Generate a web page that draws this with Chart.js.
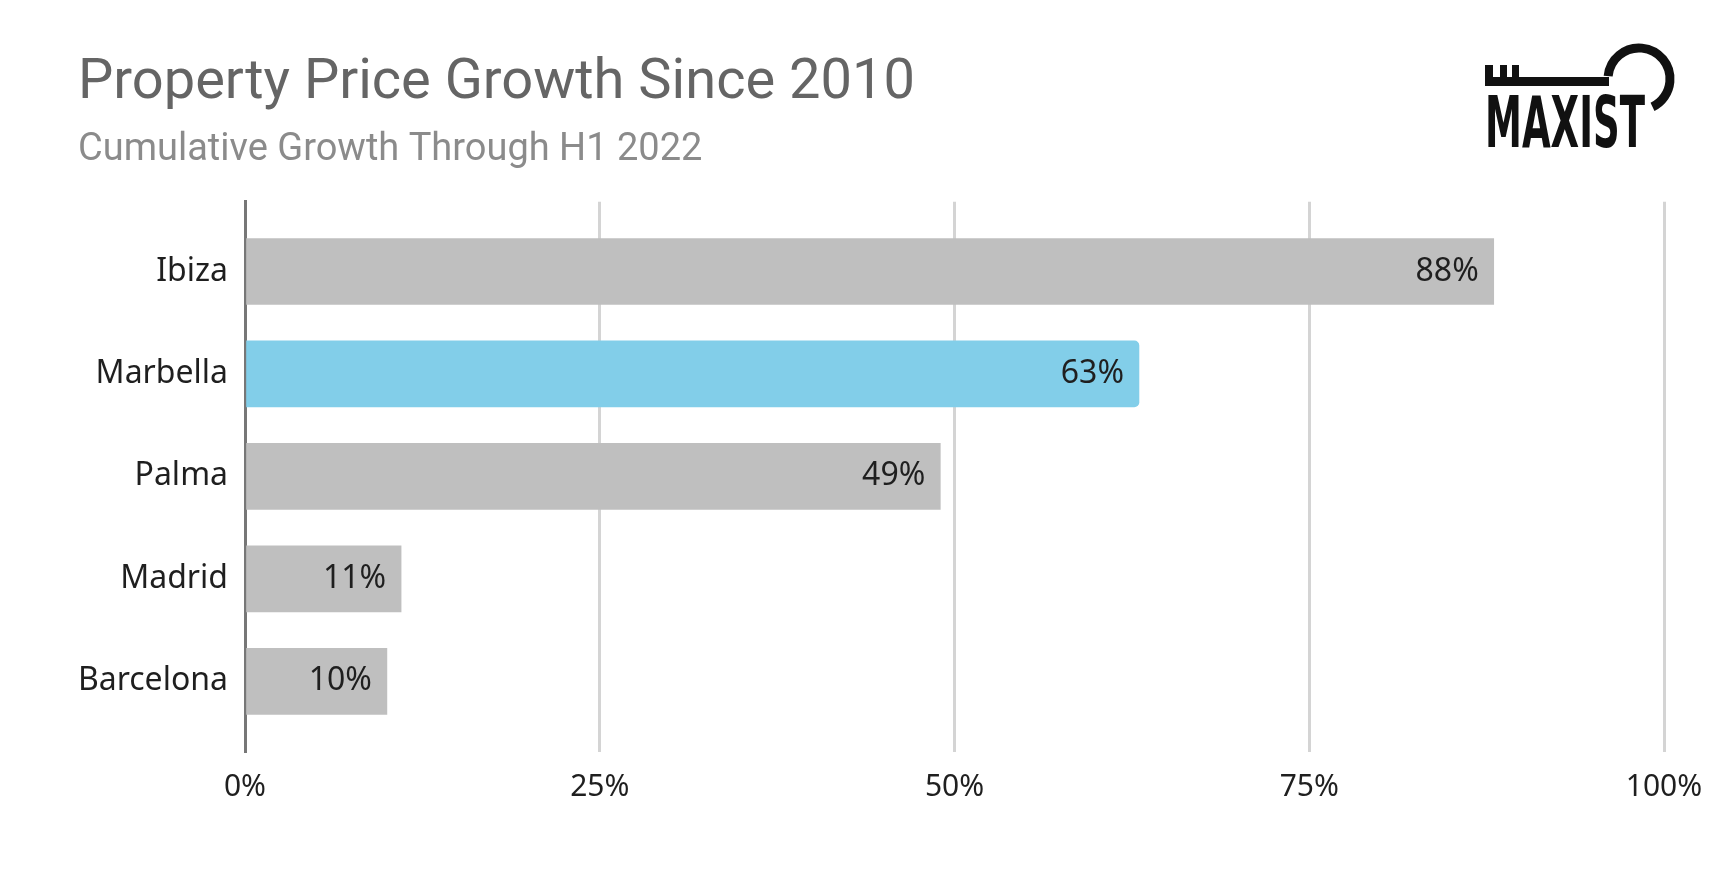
<!DOCTYPE html>
<html>
<head>
<meta charset="utf-8">
<title>Property Price Growth Since 2010</title>
<script src="https://cdn.jsdelivr.net/npm/chart.js@4.4.1/dist/chart.umd.min.js"></script>
<style>
  html, body { margin: 0; padding: 0; background: #fff; }
  canvas { display: block; }
</style>
</head>
<body>
<canvas id="chart-growth" width="1731" height="892"></canvas>
<script>
// data
const cities = ['Ibiza', 'Marbella', 'Palma', 'Madrid', 'Barcelona'];
const growth = [88, 63, 49, 11, 10];          // cumulative growth, %
const highlight = 'Marbella';
const xTicks = [0, 25, 50, 75, 100];
const titleText = 'Property Price Growth Since 2010';
const subtitleText = 'Cumulative Growth Through H1 2022';

const GREY = '#bfbfbf', BLUE = '#82cee9';
const padLeft = 78;
const labelFont = '"Noto Sans", "Open Sans", sans-serif';

// value labels inside the end of each bar
const barLabels = {
  id: 'barLabels',
  afterDatasetsDraw(chart) {
    const c = chart.ctx;
    const meta = chart.getDatasetMeta(0);
    c.save();
    c.font = '32px ' + labelFont;
    c.fillStyle = '#1f1f1f';
    c.textAlign = 'right';
    c.textBaseline = 'middle';
    meta.data.forEach((bar, i) => {
      c.fillText(growth[i] + '%', bar.x - 15, bar.y);
    });
    c.restore();
  }
};

// MAXIST key logo, top right
const logo = {
  id: 'logo',
  afterDraw(chart) {
    const c = chart.ctx;
    c.save();
    c.fillStyle = '#111';
    c.strokeStyle = '#111';
    c.fillRect(1485, 65, 8, 14);
    c.fillRect(1500, 65, 7, 14);
    c.fillRect(1512, 65, 7, 14);
    c.fillRect(1485, 77, 124, 9);
    c.lineWidth = 9;
    c.beginPath();
    c.arc(1639, 79, 31, Math.PI * 1.03, Math.PI * 2 + 1.12);
    c.stroke();
    c.font = 'bold 72px "Liberation Sans Narrow", "DejaVu Sans Condensed", sans-serif';
    c.textBaseline = 'alphabetic';
    const w = c.measureText('MAXIST').width;
    c.translate(1485, 147);
    c.scale(160 / w, 1);
    c.fillText('MAXIST', 0, 0);
    c.restore();
  }
};

new Chart(document.getElementById('chart-growth'), {
  type: 'bar',
  data: {
    datasets: [{
      data: cities.map((c, i) => ({ x: growth[i], y: i })),
      backgroundColor: cities.map(c => c === highlight ? BLUE : GREY),
      borderRadius: cities.map(c => c === highlight ? 5 : 0),
      borderSkipped: 'start',
      barThickness: 66
    }]
  },
  options: {
    indexAxis: 'y',
    responsive: false,
    animation: false,
    layout: { padding: { left: padLeft, right: 67, top: 0, bottom: 70 } },
    scales: {
      x: {
        type: 'linear',
        min: 0,
        max: 100,
        afterBuildTicks: s => { s.ticks = xTicks.map(v => ({ value: v })); },
        ticks: {
          callback: v => v + '%',
          color: '#1f1f1f',
          font: { family: labelFont, size: 30 },
          padding: 17,
          maxRotation: 0
        },
        grid: { color: '#d4d4d4', lineWidth: 3, drawTicks: false },
        border: { display: false }
      },
      y: {
        type: 'linear',
        reverse: true,
        offset: false,
        min: -0.68,
        max: 4.69,
        afterBuildTicks: s => { s.ticks = cities.map((c, i) => ({ value: i })); },
        afterFit: s => { s.width = 245 - padLeft; },
        ticks: {
          callback: v => cities[v],
          color: '#1f1f1f',
          font: { family: labelFont, size: 32 },
          padding: 17
        },
        grid: { display: false, drawTicks: false, offset: false },
        border: { display: true, color: '#777', width: 3 }
      }
    },
    plugins: {
      legend: { display: false },
      tooltip: { enabled: false },
      title: {
        display: true,
        text: titleText,
        align: 'start',
        color: '#656565',
        font: { family: 'Roboto', size: 56, weight: '400' },
        padding: { top: 50, bottom: 0 }
      },
      subtitle: {
        display: true,
        text: subtitleText,
        align: 'start',
        color: '#8b8b8b',
        font: { family: 'Roboto', size: 38, weight: '400' },
        padding: { top: 10, bottom: 29 }
      }
    }
  },
  plugins: [barLabels, logo]
});
</script>
</body>
</html>
